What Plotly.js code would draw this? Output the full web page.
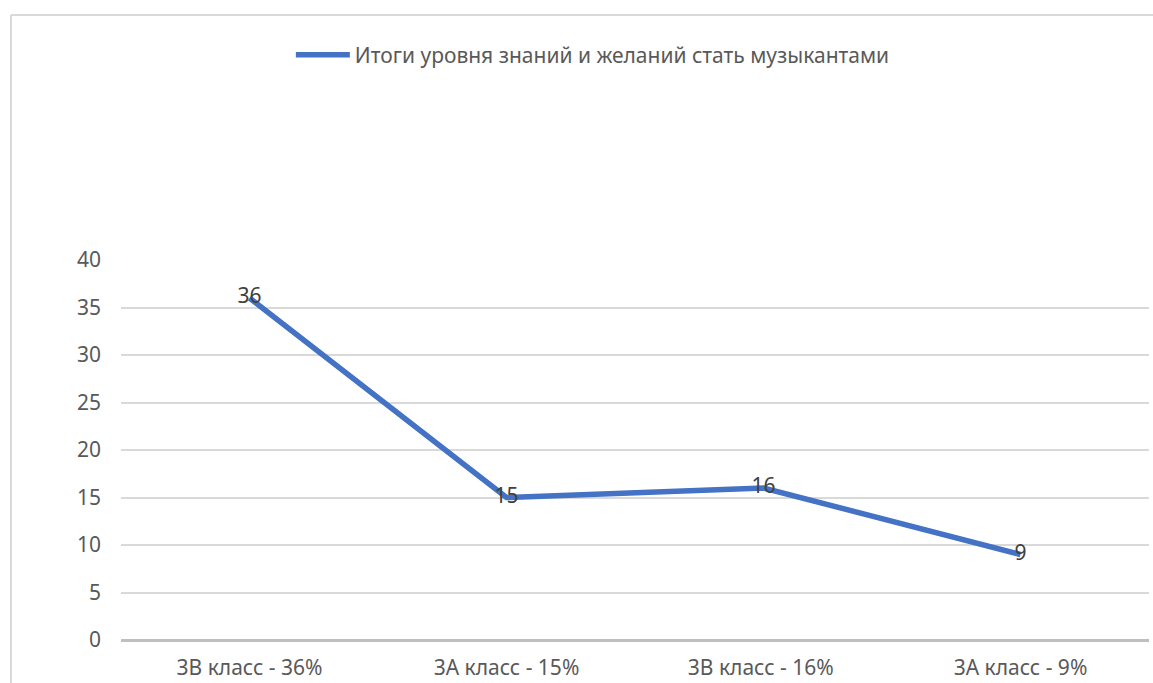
<!DOCTYPE html>
<html>
<head>
<meta charset="utf-8">
<script src="https://cdn.plot.ly/plotly-3.0.1.min.js"></script>
<style>
html,body{margin:0;padding:0;background:#fff;}
#chart{width:1153px;height:683px;}
</style>
</head>
<body>
<div id="chart"></div>
<script>
const categories = ["3В класс - 36%", "3А класс - 15%", "3В класс - 16% ", "3А класс - 9%"];
const values = [36, 15, 16, 9];
const seriesName = "Итоги уровня знаний и желаний стать музыкантами";
const yTicks = [0, 5, 10, 15, 20, 25, 30, 35, 40];

const FONT = "Noto Sans, Open Sans, sans-serif";

const trace = {
  x: categories,
  y: values,
  type: "scatter",
  mode: "lines+text",
  name: seriesName,
  text: values.map(String),
  textposition: "middle center",
  textfont: {family: FONT, size: 21, color: "#404040"},
  line: {color: "#4472C4", width: 5.5},
  cliponaxis: false,
  hoverinfo: "x+y"
};

const layout = {
  width: 1153,
  height: 683,
  margin: {l: 121, r: 4, t: 260, b: 43, autoexpand: false},
  paper_bgcolor: "#ffffff",
  plot_bgcolor: "#ffffff",
  font: {family: FONT, size: 21, color: "#595959"},
  showlegend: true,
  legend: {
    orientation: "h",
    x: 0.459, xanchor: "center",
    y: 1.539, yanchor: "middle",
    font: {family: FONT, size: 21, color: "#595959"},
    itemwidth: 54,
    bgcolor: "rgba(0,0,0,0)"
  },
  xaxis: {
    type: "category",
    range: [-0.5, 3.5],
    showgrid: false,
    zeroline: false,
    showline: false,
    ticks: "outside",
    ticklen: 9,
    tickcolor: "rgba(0,0,0,0)",
    tickfont: {family: FONT, size: 21, color: "#595959"},
    fixedrange: true
  },
  yaxis: {
    range: [0, 40],
    tickvals: yTicks,
    ticktext: yTicks.map(String),
    showgrid: true,
    gridcolor: "#d9d9d9",
    gridwidth: 2,
    zeroline: true,
    zerolinecolor: "#bfbfbf",
    zerolinewidth: 3,
    showline: false,
    ticks: "",
    ticklabelstandoff: 19,
    tickfont: {family: FONT, size: 21, color: "#595959"},
    fixedrange: true
  },
  shapes: [
    {type: "line", xref: "paper", yref: "paper", x0: -0.107, x1: 1.02, y0: 1.645, y1: 1.645,
     line: {color: "#d9d9d9", width: 2}},
    {type: "line", xref: "paper", yref: "paper", x0: -0.107, x1: -0.107, y0: 1.645, y1: -0.12,
     line: {color: "#d9d9d9", width: 2}}
  ]
};

Plotly.newPlot("chart", [trace], layout, {displayModeBar: false, staticPlot: true});
</script>
</body>
</html>
